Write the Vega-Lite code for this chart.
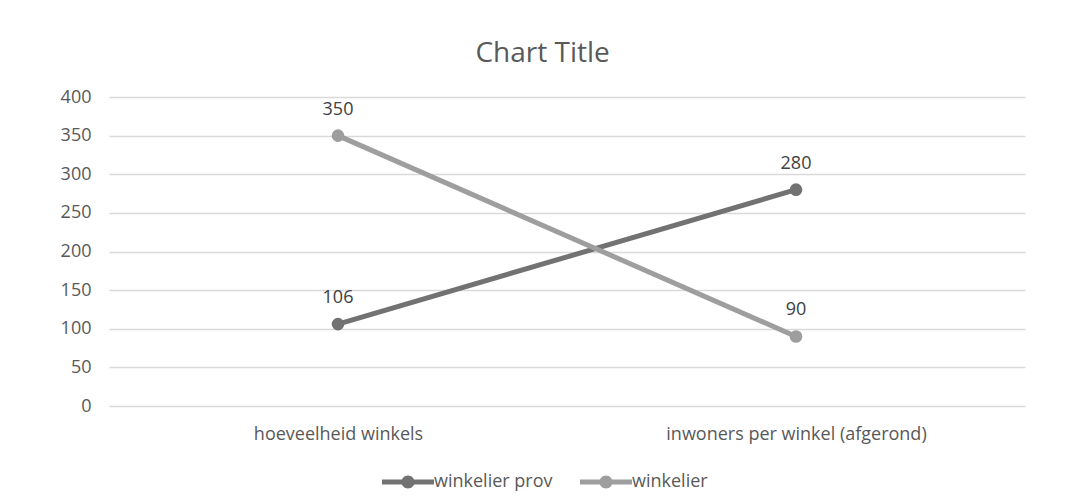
{
  "$schema": "https://vega.github.io/schema/vega-lite/v6.json",
  "autosize": {"type": "none"},
  "padding": {"left": 109, "top": 97, "right": 64, "bottom": 93},
  "width": 916,
  "height": 309,
  "background": "white",
  "title": {
    "text": "Chart Title",
    "font": "Open Sans",
    "fontSize": 28,
    "fontWeight": "normal",
    "color": "#595959",
    "anchor": "middle",
    "frame": "bounds",
    "offset": 20
  },
  "data": {
    "values": [
      {"categorie": "hoeveelheid winkels", "reeks": "winkelier prov", "waarde": 106},
      {"categorie": "inwoners per winkel (afgerond)", "reeks": "winkelier prov", "waarde": 280},
      {"categorie": "hoeveelheid winkels", "reeks": "winkelier", "waarde": 350},
      {"categorie": "inwoners per winkel (afgerond)", "reeks": "winkelier", "waarde": 90}
    ]
  },
  "encoding": {
    "x": {
      "field": "categorie",
      "type": "nominal",
      "sort": null,
      "scale": {"type": "point", "padding": 0.5},
      "axis": {
        "title": null,
        "labelAngle": 0,
        "domain": false,
        "ticks": false,
        "grid": false,
        "labelPadding": 19,
        "labelLimit": 600,
        "labelFont": "Open Sans",
        "labelFontSize": 18,
        "labelColor": "#595959"
      }
    },
    "y": {
      "field": "waarde",
      "type": "quantitative",
      "scale": {"domain": [0, 400], "nice": false},
      "axis": {
        "title": null,
        "values": [0, 50, 100, 150, 200, 250, 300, 350, 400],
        "domain": false,
        "ticks": false,
        "labelPadding": 18,
        "labelFont": "Open Sans",
        "labelFontSize": 18,
        "labelColor": "#595959",
        "gridColor": "#d9d9d9",
        "gridWidth": 1.5
      }
    },
    "color": {
      "field": "reeks",
      "type": "nominal",
      "scale": {"domain": ["winkelier prov", "winkelier"], "range": ["#727272", "#9e9e9e"]},
      "legend": {
        "title": null,
        "orient": "none",
        "legendX": 273,
        "legendY": 359,
        "direction": "horizontal",
        "symbolType": "M-1,-0.095 L1,-0.095 L1,0.095 L-1,0.095 Z M0.25,0 A0.25,0.25 0 1,1 -0.25,0 A0.25,0.25 0 1,1 0.25,0 Z",
        "symbolSize": 2704,
        "symbolStrokeWidth": 0,
        "symbolOpacity": 1,
        "labelOffset": 0,
        "columnPadding": 27,
        "labelFont": "Open Sans",
        "labelFontSize": 18,
        "labelColor": "#595959",
        "labelLimit": 400
      }
    }
  },
  "layer": [
    {
      "mark": {"type": "line", "strokeWidth": 5}
    },
    {
      "mark": {"type": "point", "filled": true, "opacity": 1, "size": 160}
    },
    {
      "mark": {"type": "text", "dy": -26, "font": "Open Sans", "fontSize": 18},
      "encoding": {
        "text": {"field": "waarde", "type": "quantitative"},
        "color": {"value": "#404040"}
      }
    }
  ],
  "config": {
    "view": {"stroke": null}
  }
}
